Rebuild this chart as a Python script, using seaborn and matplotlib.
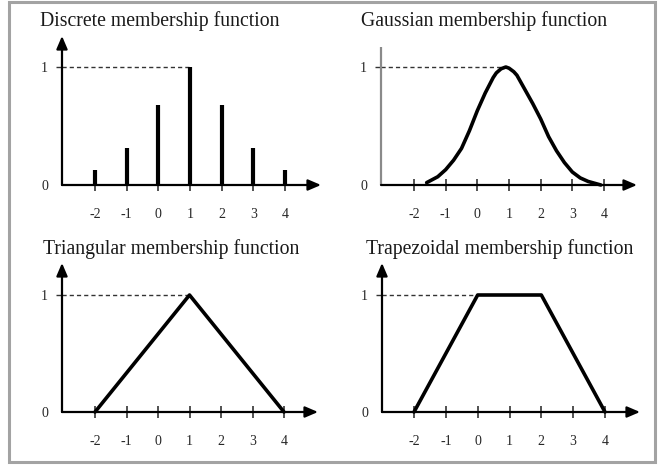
import matplotlib
matplotlib.use("Agg")
import matplotlib.pyplot as plt
from matplotlib.patches import Rectangle
import seaborn as sns

# ---- data -------------------------------------------------------------
tick_values = [-2, -1, 0, 1, 2, 3, 4]
tick_labels = ["-2", "-1", "0", "1", "2", "3", "4"]

discrete_x = [-2, -1, 0, 1, 2, 3, 4]
discrete_mu = [0.13, 0.31, 0.68, 1.0, 0.68, 0.31, 0.13]

gauss_x = [-1.6, -1.25, -1.0, -0.75, -0.5, -0.25, 0.0, 0.25, 0.5, 0.6, 0.75,
           0.9, 1.0, 1.15, 1.25, 1.5, 1.75, 2.0, 2.25, 2.5, 2.75, 3.0, 3.25,
           3.5, 3.9]
gauss_mu = [0.02, 0.07, 0.13, 0.21, 0.31, 0.46, 0.63, 0.78, 0.91, 0.95, 0.985,
            1.0, 0.99, 0.96, 0.93, 0.81, 0.69, 0.56, 0.41, 0.29, 0.19, 0.11,
            0.06, 0.03, 0.0]

tri_x = [-2, 1, 4]
tri_mu = [0, 1, 0]

trap_x = [-2, 0, 2, 4]
trap_mu = [0, 1, 1, 0]

titles = ["Discrete membership function", "Gaussian membership function",
          "Triangular membership function", "Trapezoidal membership function"]

# ---- figure -----------------------------------------------------------
sns.set_theme(style="white")
plt.rcParams["font.family"] = ["Liberation Serif", "DejaVu Serif"]

W, H = 658, 468
fig = plt.figure(figsize=(W / 100, H / 100), dpi=100)
fig.patch.set_facecolor("white")

# outer frame
fig.patches.append(Rectangle((9 / W, 1 - 462 / H), (655 - 9) / W, (462 - 2) / H,
                             transform=fig.transFigure, fill=False,
                             edgecolor="#a3a3a3", lw=2.2))


def make_panel(axis_x, zero_y, one_y, xm2_px, x4_px, arrow_px, top_px):
    """Place an axes so that data coordinates land on the given pixel grid."""
    sx = (x4_px - xm2_px) / 6.0
    xmin = -2 - (xm2_px - axis_x) / sx
    xmax = 4 + (arrow_px - x4_px) / sx
    ymax = (zero_y - top_px) / (zero_y - one_y)
    ax = fig.add_axes([axis_x / W, 1 - zero_y / H,
                       (arrow_px - axis_x) / W, (zero_y - top_px) / H])
    ax.set_xlim(xmin, xmax)
    ax.set_ylim(0, ymax)
    ax.patch.set_alpha(0)
    for s in ax.spines.values():
        s.set_visible(False)
    ax.set_xticks(tick_values)
    ax.set_xticklabels(tick_labels)
    ax.tick_params(axis="x", direction="inout", length=8, width=1.1,
                   color="#222222", pad=12.5, labelsize=10, bottom=True)
    ax.set_yticks([0, 1])
    ax.set_yticklabels(["0", "1"])
    ax.tick_params(axis="y", direction="out", length=4, width=1.0,
                   color="#333333", pad=6, labelsize=10, left=True)
    ax.yaxis.get_major_ticks()[0].tick1line.set_visible(False)
    ax.set_xlabel("")
    ax.set_ylabel("")
    return ax, xmin, xmax, ymax


def draw_axes_lines(ax, xmin, xmax, ymax, y_arrow=True):
    head = dict(arrowstyle="-|>,head_length=0.7,head_width=0.3", lw=1.6,
                color="black", shrinkA=0, shrinkB=0, mutation_scale=11)
    ax.annotate("", xy=(xmax, 0), xytext=(xmin, 0), arrowprops=head,
                annotation_clip=False)
    if y_arrow:
        ax.annotate("", xy=(xmin, ymax), xytext=(xmin, 0), arrowprops=head,
                    annotation_clip=False)
    else:
        ax.plot([xmin, xmin], [0, ymax], color="#8a8a8a", lw=1.6,
                clip_on=False, solid_capstyle="butt")


def dashed_top(ax, xmin, peak_x):
    ax.plot([xmin, peak_x], [1, 1], color="#333333", lw=1.0,
            ls=(0, (3, 2.2)), clip_on=False)


# Discrete
ax, xmin, xmax, ymax = make_panel(62, 185, 67, 95, 285, 321, 36)
dashed_top(ax, xmin, 1)
ax.vlines(discrete_x, 0, discrete_mu, color="black", lw=3.0, clip_on=False)
draw_axes_lines(ax, xmin, xmax, ymax, y_arrow=True)

# Gaussian
ax, xmin, xmax, ymax = make_panel(381, 185, 67, 414, 604, 637, 47)
dashed_top(ax, xmin, 0.85)
draw_axes_lines(ax, xmin, xmax, ymax, y_arrow=False)
sns.lineplot(x=gauss_x, y=gauss_mu, ax=ax, color="black", lw=2.6,
             sort=False, estimator=None, clip_on=False)

# Triangular
ax, xmin, xmax, ymax = make_panel(62, 412, 295, 95, 284, 318, 263)
dashed_top(ax, xmin, 1)
draw_axes_lines(ax, xmin, xmax, ymax, y_arrow=True)
sns.lineplot(x=tri_x, y=tri_mu, ax=ax, color="black", lw=2.6,
             sort=False, estimator=None, clip_on=False)

# Trapezoidal
ax, xmin, xmax, ymax = make_panel(382, 412, 295, 414, 605, 640, 263)
dashed_top(ax, xmin, 0)
draw_axes_lines(ax, xmin, xmax, ymax, y_arrow=True)
sns.lineplot(x=trap_x, y=trap_mu, ax=ax, color="black", lw=2.6,
             sort=False, estimator=None, clip_on=False)

# panel titles
title_pos = [(40, 21), (361, 21), (43, 249), (366, 249)]
for (px, py), t in zip(title_pos, titles):
    fig.text(px / W, 1 - py / H, t, ha="left", va="center", fontsize=14.2,
             color="#1a1a1a")

fig.savefig("out.png", dpi=100)
